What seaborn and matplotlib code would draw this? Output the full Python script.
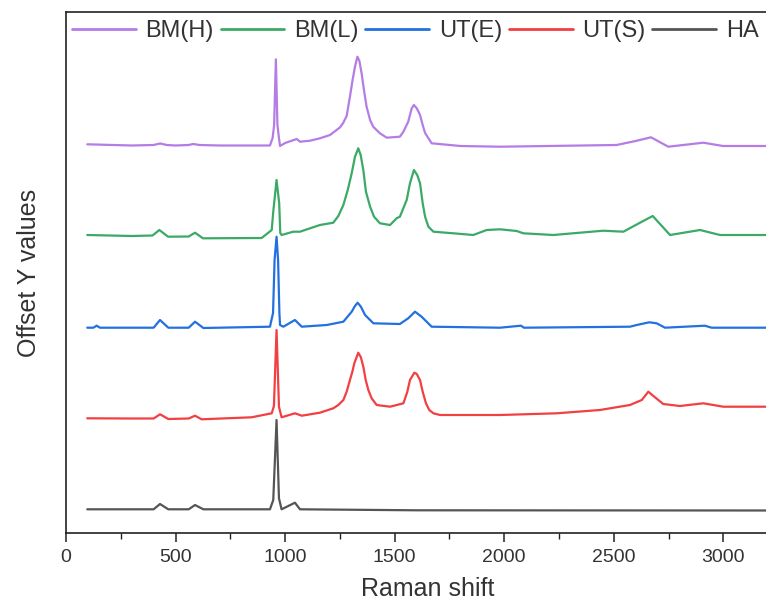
import numpy as np
import pandas as pd
import matplotlib
matplotlib.use("Agg")
import matplotlib.pyplot as plt
from matplotlib.lines import Line2D
from matplotlib.ticker import MultipleLocator
import seaborn as sns

# ---- data (offset spectra) ----
samples = ["BM(H)", "BM(L)", "UT(E)", "UT(S)", "HA"]
colors = ["#B57CE6", "#3AAA66", "#2271DE", "#F23F42", "#555555"]

bmh_x = [97, 300, 400, 430, 460, 500, 560, 580, 610, 700, 931, 943, 950, 958, 965, 972, 977,
         1000, 1053, 1068, 1114, 1159, 1205, 1251, 1265, 1281, 1296, 1308, 1319, 1330, 1339,
         1349, 1360, 1372, 1388, 1402, 1433, 1464, 1524, 1540, 1562, 1578, 1588, 1601, 1616,
         1628, 1639, 1669, 1800, 1981, 2513, 2600, 2670, 2749, 2909, 2999, 3250]
bmh_y = [388.7, 387.5, 388, 389.5, 388, 387.5, 388, 389, 388, 387.5, 387.5, 395, 408, 473.7,
         408, 395, 387, 390, 394, 391.3, 392.3, 394.7, 398, 405.7, 410, 417, 436.3, 453,
         466.3, 476.3, 472.3, 460, 443, 426.3, 413, 406.3, 399.7, 395.3, 396.3, 401.3, 411.3,
         424.7, 428, 424.7, 418, 408, 400, 389.7, 387, 386.3, 388, 392, 395.7, 386.3, 390.3,
         387, 387]

bml_x = [97, 300, 395, 426, 466, 560, 589, 625, 893, 939, 946, 961, 973, 978, 984, 1037,
         1068, 1159, 1220, 1243, 1266, 1286, 1304, 1319, 1334, 1345, 1357, 1369, 1388, 1406,
         1433, 1479, 1509, 1524, 1555, 1570, 1588, 1603, 1616, 1628, 1639, 1654, 1677, 1768,
         1859, 1920, 1981, 2057, 2087, 2224, 2452, 2544, 2620, 2678, 2757, 2894, 2985, 3250]
bml_y = [298, 297, 297.5, 303, 296.3, 296.5, 300.3, 294.7, 295, 303, 321.3, 353, 330, 300,
         298, 301.3, 301.3, 308, 310.3, 317, 328, 343, 359.7, 376.3, 384.7, 378, 363, 341.3,
         326.3, 316.3, 309.7, 308, 314.7, 316.3, 333, 349.7, 363, 358, 349.7, 329.7, 316.3,
         306.3, 301.3, 299.7, 298, 303, 303.7, 302, 299.7, 298, 302.3, 301.3, 310.3, 317,
         298, 303, 298, 298]

ute_x = [97, 125, 140, 155, 400, 429, 467, 560, 589, 627, 931, 945, 952, 961, 968, 974, 977,
         992, 1045, 1076, 1190, 1266, 1304, 1319, 1331, 1346, 1365, 1403, 1524, 1562, 1593,
         1623, 1669, 1981, 2077, 2090, 2574, 2605, 2662, 2696, 2734, 2916, 2947, 3250]
ute_y = [205.3, 205.3, 207.3, 205.3, 205.3, 213, 205.3, 205.3, 211.3, 205, 206.3, 220, 273,
         296.3, 273, 220, 208, 206.3, 213, 206.3, 208, 211.3, 221.3, 227, 230.3, 226.3, 218,
         209.7, 209, 214.7, 221.3, 216.3, 206.3, 205.3, 207.3, 205.3, 206.3, 208, 210.7,
         209.7, 205.3, 207.3, 205.3, 205.3]

uts_x = [97, 300, 400, 429, 467, 560, 589, 619, 847, 939, 949, 961, 972, 984, 1045, 1076,
         1159, 1220, 1243, 1266, 1281, 1296, 1307, 1316, 1334, 1346, 1357, 1368, 1380, 1395,
         1418, 1479, 1540, 1558, 1570, 1590, 1601, 1616, 1628, 1643, 1658, 1677, 1707, 1981,
         2240, 2437, 2574, 2628, 2658, 2681, 2726, 2802, 2909, 3000, 3250]
uts_y = [114.7, 114.5, 114.5, 118.7, 114, 114.5, 117.3, 113.7, 115.7, 119.7, 127, 203, 126.3,
         115.7, 119.7, 117.3, 120.3, 124.7, 128, 133, 141.3, 153, 161.3, 169.7, 180.3, 175.7,
         166.3, 153, 143, 134.7, 128, 126.3, 129.7, 141.3, 153, 160.3, 159, 153, 141.3,
         129.7, 123, 119.7, 118, 118, 119.7, 123, 128, 133, 141.3, 137, 129, 127, 129.7,
         126.3, 126.3]

ha_x = [97, 300, 400, 429, 467, 560, 589, 627, 931, 946, 961, 972, 984, 1045, 1068, 1600,
        3250]
ha_y = [23.7, 23.7, 23.7, 29, 23.7, 23.7, 28, 23.7, 23.7, 33, 113, 34.7, 23.7, 30.3, 23.7,
        22.7, 22.5]

xticks = [0, 500, 1000, 1500, 2000, 2500, 3000]

series = {"BM(H)": (bmh_x, bmh_y), "BM(L)": (bml_x, bml_y), "UT(E)": (ute_x, ute_y),
          "UT(S)": (uts_x, uts_y), "HA": (ha_x, ha_y)}
frames = []
for name in samples:
    xs, ys = series[name]
    frames.append(pd.DataFrame({"shift": xs, "value": ys, "sample": name}))
df = pd.concat(frames, ignore_index=True)

# ---- plot ----
sns.set_style("ticks")
plt.rcParams["font.family"] = ["Liberation Sans", "DejaVu Sans"]

fig = plt.figure(figsize=(7.66, 6.14), dpi=100)
ax = fig.add_axes([66 / 766, 81 / 614, 723 / 766, 521 / 614])

palette = dict(zip(samples, colors))
sns.lineplot(data=df, x="shift", y="value", hue="sample", hue_order=samples,
             palette=palette, estimator=None, sort=False, units="sample",
             linewidth=1.6, legend=False, ax=ax)

ax.set_xlim(0, 3300)
ax.set_ylim(0, 521)
ax.set_xticks(xticks)
ax.xaxis.set_minor_locator(MultipleLocator(250))
ax.set_yticks([])
ax.tick_params(axis="x", which="major", direction="out", length=6.5, width=1.1,
               labelsize=14, colors="#222222", labelcolor="#333333", pad=5)
ax.tick_params(axis="x", which="minor", direction="out", length=4, width=1.0,
               colors="#222222")
for s in ["left", "bottom", "top", "right"]:
    ax.spines[s].set_linewidth(1.2)
    ax.spines[s].set_color("#222222")

ax.set_xlabel("Raman shift", fontsize=18, color="#333333", labelpad=8)
ax.set_ylabel("Offset Y values", fontsize=18, color="#333333", labelpad=18)

handles = [Line2D([], [], color=c, lw=2.0) for c in colors]
ax.legend(handles, samples, ncol=5, loc="upper left",
          bbox_to_anchor=(6 / 723, 0.985), frameon=False, fontsize=17,
          handlelength=2.7, handletextpad=0.4, columnspacing=0.3,
          borderpad=0, borderaxespad=0, labelcolor="#333333")

fig.savefig("out.png", dpi=100)
